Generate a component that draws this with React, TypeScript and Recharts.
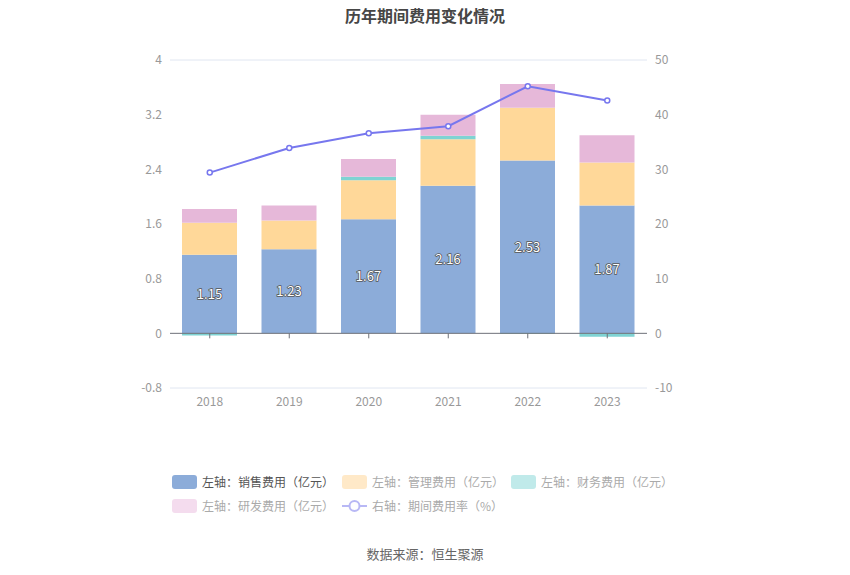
import React from 'react';
import {
  ComposedChart, Bar, Line, XAxis, YAxis, CartesianGrid, LabelList, ReferenceLine,
} from 'recharts';

const years = ['2018', '2019', '2020', '2021', '2022', '2023'];
const salesExp = [1.15, 1.23, 1.67, 2.16, 2.53, 1.87];
const adminExp = [0.47, 0.42, 0.57, 0.68, 0.77, 0.63];
const financeExp = [-0.03, 0.0, 0.05, 0.05, -0.01, -0.05];
const rdExp = [0.2, 0.22, 0.26, 0.31, 0.35, 0.4];
const expenseRate = [29.4, 33.9, 36.6, 37.9, 45.2, 42.6];

const leftTicks = [-0.8, 0, 0.8, 1.6, 2.4, 3.2, 4];
const rightTicks = [-10, 0, 10, 20, 30, 40, 50];

const chartData = years.map((year, i) => ({
  year,
  sales: salesExp[i],
  admin: adminExp[i],
  finance: financeExp[i],
  rd: rdExp[i],
  rate: expenseRate[i],
}));

const FONT = '"Noto Sans CJK SC", "Noto Sans", sans-serif';
const TOP = 60;
const PLOT_H = 328;
const X_AXIS_H = 30;
const zeroY = TOP + (4 / 4.8) * PLOT_H;

const YearTick = (props: any) => {
  const { x, payload } = props;
  return (
    <g>
      <line x1={x} x2={x} y1={zeroY} y2={zeroY + 5} stroke="#6e7079" />
      <text x={x} y={TOP + PLOT_H + 18} textAnchor="middle" fill="#999" fontSize={12} fontFamily={FONT}>
        {payload.value}
      </text>
    </g>
  );
};

const legendItems = [
  { label: '左轴：销售费用（亿元）', color: '#8cacd9', text: '#555', kind: 'box' },
  { label: '左轴：管理费用（亿元）', color: '#ffe9c8', text: '#aaa', kind: 'box' },
  { label: '左轴：财务费用（亿元）', color: '#c0eaea', text: '#aaa', kind: 'box' },
  { label: '左轴：研发费用（亿元）', color: '#f4dcee', text: '#aaa', kind: 'box' },
  { label: '右轴：期间费用率（%）', color: '#b8b8f5', text: '#aaa', kind: 'line' },
];

const legendPos = [[172, 0], [342, 0], [511, 0], [172, 24], [342, 24]];

const CustomLegend = () => (
  <div style={{ position: 'absolute', left: 0, top: 473, width: 850, height: 50, fontFamily: FONT, fontSize: 12 }}>
    {legendItems.map((it, i) => (
      <div
        key={it.label}
        style={{ position: 'absolute', left: legendPos[i][0], top: legendPos[i][1], display: 'flex', alignItems: 'center', whiteSpace: 'nowrap' }}
      >
        {it.kind === 'box' ? (
          <span style={{ display: 'inline-block', width: 25, height: 14, borderRadius: 3, background: it.color }} />
        ) : (
          <svg width={25} height={14}>
            <line x1={0} x2={25} y1={7} y2={7} stroke={it.color} strokeWidth={2} />
            <circle cx={12.5} cy={7} r={5} fill="#fff" stroke={it.color} strokeWidth={2} />
          </svg>
        )}
        <span style={{ marginLeft: 5, color: it.text }}>{it.label}</span>
      </div>
    ))}
  </div>
);

export default function App() {
  return (
    <div style={{ position: 'absolute', left: 0, top: 0, width: 850, height: 575, background: '#fff' }}>
      <div style={{ position: 'absolute', top: 3, width: 850, textAlign: 'center', fontFamily: FONT, fontSize: 16, fontWeight: 'bold', color: '#464646' }}>
        历年期间费用变化情况
      </div>
      <ComposedChart
        width={850}
        height={575}
        data={chartData}
        stackOffset="sign"
        margin={{ top: TOP, right: 143, left: 110, bottom: 575 - TOP - PLOT_H - X_AXIS_H }}
      >
        <CartesianGrid vertical={false} stroke="#e0e6f1" />
        <XAxis dataKey="year" axisLine={false} tickLine={false} tick={<YearTick />} height={X_AXIS_H} interval={0} />
        <YAxis
          yAxisId="left"
          domain={[-0.8, 4]}
          ticks={leftTicks}
          width={60}
          axisLine={false}
          tickLine={false}
          tick={{ fill: '#999', fontSize: 12, fontFamily: FONT }}
          interval={0}
        />
        <YAxis
          yAxisId="right"
          orientation="right"
          domain={[-10, 50]}
          ticks={rightTicks}
          width={60}
          axisLine={false}
          tickLine={false}
          tick={{ fill: '#999', fontSize: 12, fontFamily: FONT }}
          interval={0}
        />
        <ReferenceLine yAxisId="left" y={0} stroke="#6e7079" />
        <Bar yAxisId="left" dataKey="sales" stackId="s" fill="#8cacd9" barSize={55} isAnimationActive={false}>
          <LabelList
            dataKey="sales"
            position="center"
            fill="#fff"
            stroke="#555"
            strokeWidth={1.5}
            paintOrder="stroke"
            fontSize={13}
            fontFamily={FONT}
          />
        </Bar>
        <Bar yAxisId="left" dataKey="admin" stackId="s" fill="#ffd899" barSize={55} isAnimationActive={false} />
        <Bar yAxisId="left" dataKey="finance" stackId="s" fill="#7fd3d3" barSize={55} isAnimationActive={false} />
        <Bar yAxisId="left" dataKey="rd" stackId="s" fill="#e6b8d9" barSize={55} isAnimationActive={false} />
        <Line
          yAxisId="right"
          dataKey="rate"
          stroke="#7777ee"
          strokeWidth={2}
          dot={{ r: 2.5, fill: '#fff', stroke: '#7777ee', strokeWidth: 1.5 }}
          activeDot={false}
          isAnimationActive={false}
        />
      </ComposedChart>
      <CustomLegend />
      <div style={{ position: 'absolute', top: 544, width: 850, textAlign: 'center', fontFamily: FONT, fontSize: 13, color: '#666' }}>
        数据来源：恒生聚源
      </div>
    </div>
  );
}
